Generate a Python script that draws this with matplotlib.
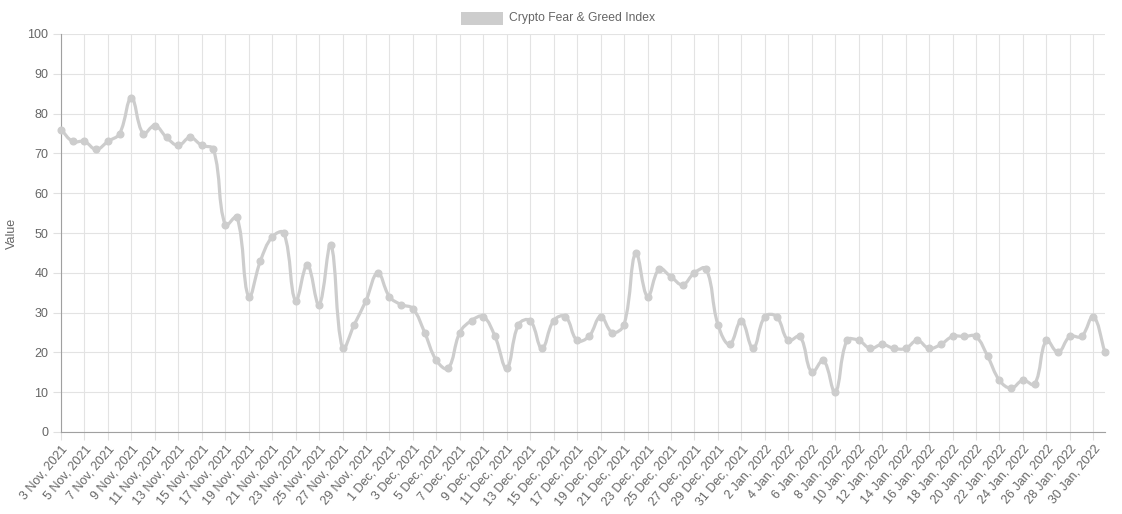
import matplotlib
matplotlib.use('Agg')
import matplotlib.pyplot as plt
import numpy as np
from matplotlib.path import Path
from matplotlib.patches import PathPatch, Rectangle
import datetime as dt

start = dt.date(2021, 11, 3)
values = [76, 73, 73, 71, 73, 75, 84, 75, 77, 74, 72, 74, 72, 71, 52, 54, 34, 43, 49, 50,
          33, 42, 32, 47, 21, 27, 33, 40, 34, 32, 31, 25, 18, 16, 25, 28, 29, 24, 16, 27,
          28, 21, 28, 29, 23, 24, 29, 25, 27, 45, 34, 41, 39, 37, 40, 41, 27, 22, 28, 21,
          29, 29, 23, 24, 15, 18, 10, 23, 23, 21, 22, 21, 21, 23, 21, 22, 24, 24, 24, 19,
          13, 11, 13, 12, 23, 20, 24, 24, 29, 20]
dates = [start + dt.timedelta(days=i) for i in range(len(values))]
labels = [f"{d.day} {d.strftime('%b')}, {d.year}" for d in dates]

line_color = '#cdcdcd'
text_color = '#666666'

plt.rcParams['font.family'] = ['Liberation Sans', 'DejaVu Sans']

fig = plt.figure(figsize=(11.22, 5.14), dpi=100)
ax = fig.add_axes([61 / 1122, 1 - 432 / 514, 1044 / 1122, 398 / 514])

n = len(values)
x = np.arange(n, dtype=float)
y = np.array(values, dtype=float)
ax.set_xlim(0, n - 1)
ax.set_ylim(0, 100)

# chart.js style bezier smoothing (tension 0.4), computed in pixel space
sx = 1044 / (n - 1)
sy = 398 / 100
px = x * sx
py = y * sy
t = 0.4
verts = [(x[0], y[0])]
codes = [Path.MOVETO]
cps = []
for i in range(n):
    p0 = np.array([px[max(i - 1, 0)], py[max(i - 1, 0)]])
    p1 = np.array([px[i], py[i]])
    p2 = np.array([px[min(i + 1, n - 1)], py[min(i + 1, n - 1)]])
    d01 = np.hypot(*(p1 - p0))
    d12 = np.hypot(*(p2 - p1))
    tot = d01 + d12
    s01 = d01 / tot if tot else 0
    s12 = d12 / tot if tot else 0
    prev_cp = p1 - t * s01 * (p2 - p0)
    next_cp = p1 + t * s12 * (p2 - p0)
    prev_cp[1] = np.clip(prev_cp[1], 0, 398)
    next_cp[1] = np.clip(next_cp[1], 0, 398)
    cps.append((prev_cp, next_cp))
for i in range(1, n):
    c1 = cps[i - 1][1]
    c2 = cps[i][0]
    verts += [(c1[0] / sx, c1[1] / sy), (c2[0] / sx, c2[1] / sy), (x[i], y[i])]
    codes += [Path.CURVE4] * 3
ax.add_patch(PathPatch(Path(verts, codes), facecolor='none', edgecolor=line_color,
                       lw=2.3, zorder=3, clip_on=False))
ax.plot(x, y, 'o', color=line_color, markersize=4.8, zorder=4, clip_on=False)

ax.set_xticks(x[::2])
ax.set_xticklabels(labels[::2], rotation=50, ha='right', rotation_mode='anchor',
                   fontsize=9, color=text_color)
ax.set_yticks(np.arange(0, 101, 10))
ax.tick_params(axis='y', labelsize=9, labelcolor=text_color, length=6, color='#e0e0e0', pad=3)
ax.tick_params(axis='x', length=6, color='#e0e0e0', pad=2)
ax.grid(True, color='#e3e3e3', lw=0.8)
ax.set_axisbelow(True)
for s in ['top', 'right']:
    ax.spines[s].set_visible(False)
ax.spines['left'].set_color('#a0a0a0')
ax.spines['bottom'].set_color('#a0a0a0')
ax.set_ylabel('Value', fontsize=9, color=text_color, labelpad=8)
ax.yaxis.set_label_coords(-43 / 1044, 0.5)

# legend
fig.patches.append(Rectangle((461 / 1122, 1 - 25 / 514), 42 / 1122, 13 / 514,
                             transform=fig.transFigure, facecolor=line_color, edgecolor='none'))
fig.text(509 / 1122, 1 - 18 / 514, 'Crypto Fear & Greed Index', fontsize=8.7,
         color=text_color, va='center', ha='left')

fig.savefig('out.png', dpi=100)
